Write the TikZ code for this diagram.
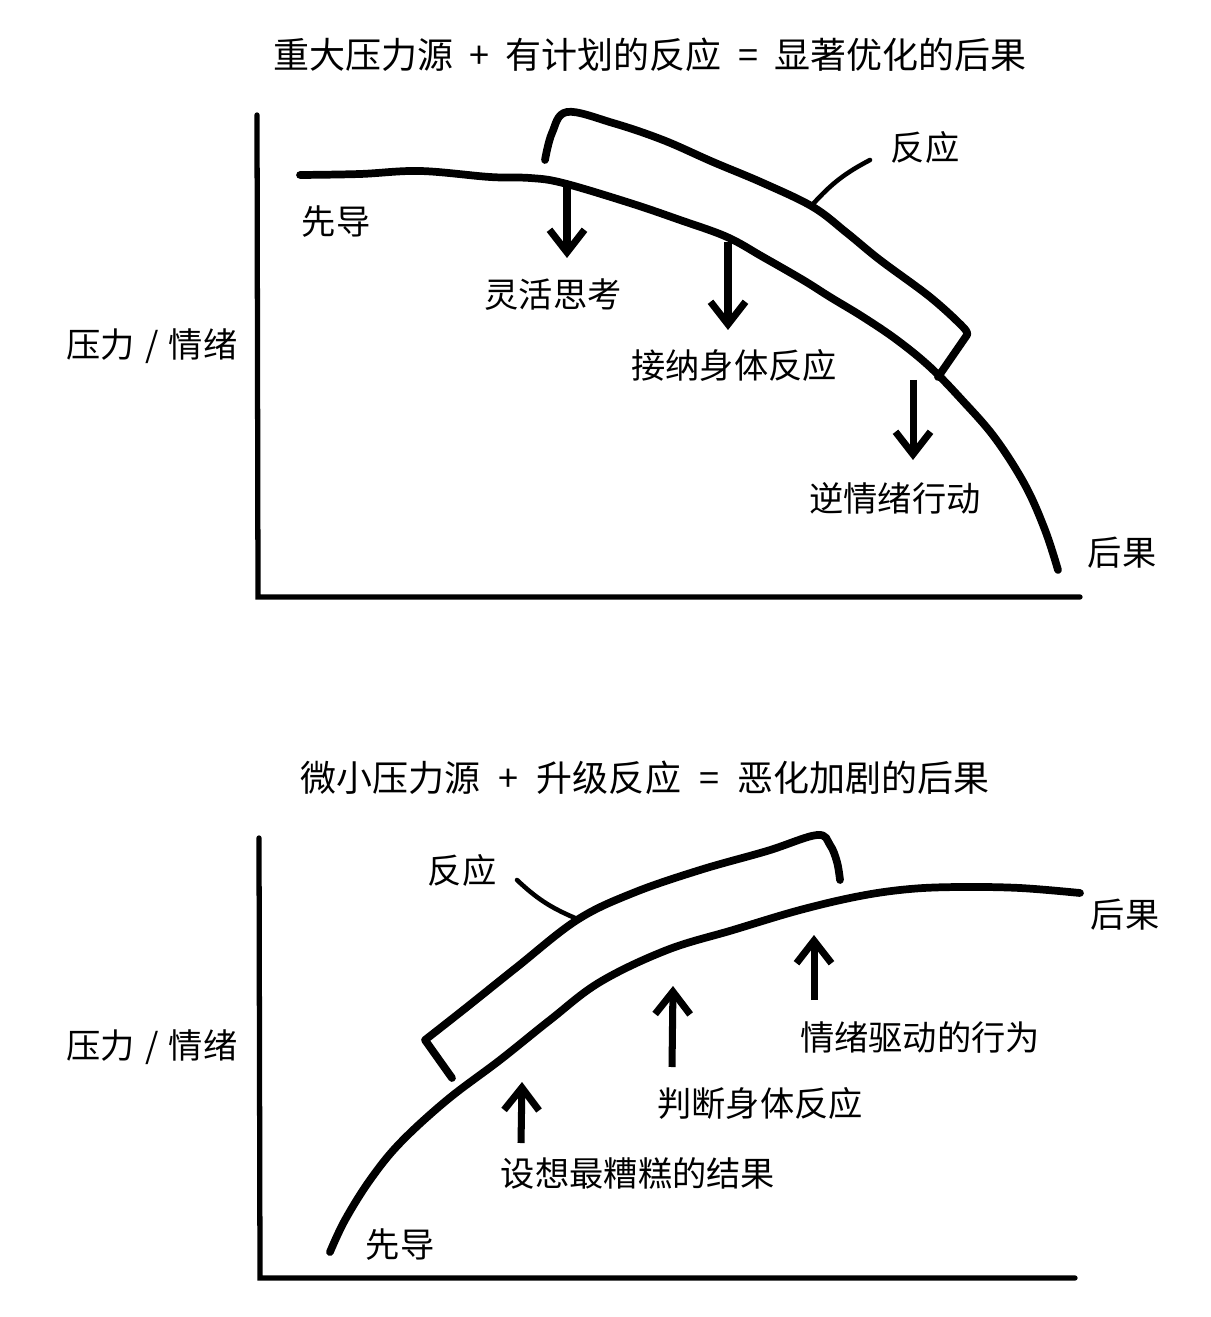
\documentclass[tikz,border=0pt]{standalone}
\usepackage{fontspec}
\setmainfont{Noto Sans CJK SC}
\usepackage{tikz}
\usetikzlibrary{arrows.meta,positioning}

\begin{document}
\begin{tikzpicture}[
 x=0.02cm,y=-0.02cm,
 lbl/.style={inner sep=0pt,font=\fontsize{19.5}{22}\selectfont},
 ttl/.style={inner sep=0pt,font=\fontsize{20.5}{23}\selectfont},
 ax/.style={line width=3pt,line cap=round},
 crv/.style={line width=4.4pt,line cap=round,line join=round},
 ld/.style={line width=2.6pt,line cap=round},
 a/.style={line width=4pt,-{Straight Barb[length=4.5mm,width=7mm,line width=4pt]}}
]
\useasboundingbox (0,0) rectangle (1210,1317);

\node[ttl] (t1) at (650,55) {重大压力源\hspace{0.45em}+\hspace{0.45em}有计划的反应\hspace{0.45em}=\hspace{0.45em}显著优化的后果};
\node[lbl] (y1) at (152,346) {压力\hspace{0.3em}/\hspace{0.3em}情绪};
\coordinate (o1) at (258,597);
\coordinate (yt1) at (257,115);
\coordinate (xr1) at (1080,597);
\draw[ax] (yt1) -- (o1) -- (xr1);

\draw[crv] plot[smooth,tension=0.6] coordinates {(300,175) (360,174) (420,171) (490,177) (530,178) (563,183) (630,203) (680,220) (727,237) (763,257) (803,280) (830,297) (863,317) (897,340) (930,367) (962,400) (995,438) (1025,485) (1045,530) (1058,570)};
\draw[crv] plot[smooth,tension=0.6] coordinates {(545,160) (552,133) (567,112) (613,123) (663,140) (713,162) (763,183) (813,207) (847,233) (880,260) (930,297) (963,327) (967,335)} -- (938,377);
\coordinate (r1) at (813,204);
\coordinate (r1e) at (870,160);
\draw[ld] (r1) to[bend left=10] (r1e);
\node[lbl] (resp1) at (925,147) {反应};
\node[lbl] (pre1) at (336,222) {先导};
\node[lbl] (out1) at (1122,553) {后果};

\coordinate (s1) at (567,187);
\coordinate (e1) at (567,258);
\coordinate (s2) at (728,242);
\coordinate (e2) at (728,330);
\coordinate (s3) at (913,380);
\coordinate (e3) at (913,460);
\draw[a] (s1) -- (e1);
\draw[a] (s2) -- (e2);
\draw[a] (s3) -- (e3);
\node[lbl] (k1) at (553,295) {灵活思考};
\node[lbl] (k2) at (734,365) {接纳身体反应};
\node[lbl] (k3) at (895,498) {逆情绪行动};

\node[ttl] (t2) at (645,778) {微小压力源\hspace{0.5em}+\hspace{0.5em}升级反应\hspace{0.5em}=\hspace{0.5em}恶化加剧的后果};
\node[lbl] (y2) at (152,1047) {压力\hspace{0.3em}/\hspace{0.3em}情绪};
\coordinate (o2) at (260,1278);
\coordinate (yt2) at (259,838);
\coordinate (xr2) at (1075,1278);
\draw[ax] (yt2) -- (o2) -- (xr2);

\draw[crv] plot[smooth,tension=0.6] coordinates {(330,1252) (345,1220) (370,1180) (400,1143) (447,1100) (500,1060) (550,1020) (600,982) (667,950) (733,930) (800,910) (860,896) (910,889) (960,887) (1020,888) (1080,893)};
\draw[crv] (452,1078) -- (425,1040) -- plot[smooth,tension=0.6] coordinates {(425,1040) (467,1007) (517,967) (577,920) (633,893) (700,870) (767,851) (817,835) (830,845) (837,862) (840,880)};
\coordinate (r2) at (575,918);
\coordinate (r2e) at (517,880);
\draw[ld] (r2) to[bend left=10] (r2e);
\node[lbl] (resp2) at (462,870) {反应};
\node[lbl] (pre2) at (400,1245) {先导};
\node[lbl] (out2) at (1125,915) {后果};

\coordinate (u1) at (521,1143);
\coordinate (v1) at (522,1082);
\coordinate (u2) at (672,1067);
\coordinate (v2) at (673,986);
\coordinate (u3) at (814,1000);
\coordinate (v3) at (814,935);
\draw[a] (u1) -- (v1);
\draw[a] (u2) -- (v2);
\draw[a] (u3) -- (v3);
\node[lbl] (m1) at (638,1173) {设想最糟糕的结果};
\node[lbl] (m2) at (760,1103) {判断身体反应};
\node[lbl] (m3) at (920,1037) {情绪驱动的行为};
\end{tikzpicture}
\end{document}
